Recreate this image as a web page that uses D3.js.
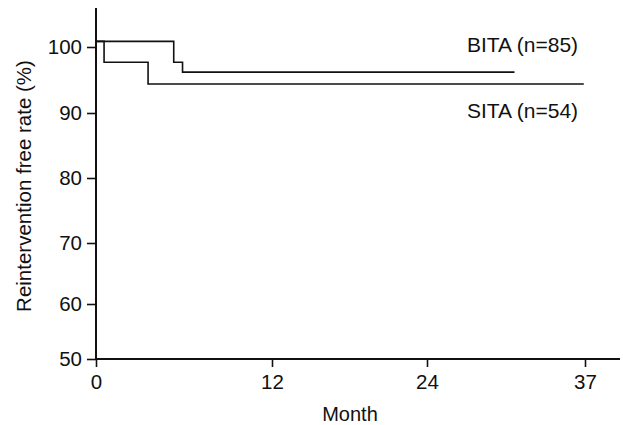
<!DOCTYPE html>
<html>
<head>
<meta charset="utf-8">
<script src="https://cdn.jsdelivr.net/npm/d3@7"></script>
<style>
  body { margin: 0; background: #fff; }
  text { font-family: "Liberation Sans", Arial, sans-serif; fill: #111; }
</style>
</head>
<body>
<div id="chart"></div>
<script>
// tick values
var xTicks = [0, 12, 24, 37];
var yTicks = [50, 60, 70, 80, 90, 100];

// step curves, month vs %
var bitaMonth = [0, 5.3, 5.9, 31.2];
var bitaRate  = [101, 97.7, 96.2, 96.2];
var sitaMonth = [0, 0.55, 3.55, 36.9];
var sitaRate  = [101, 97.7, 94.4, 94.4];

var seriesNames = ["BITA (n=85)", "SITA (n=54)"];

var W = 623, H = 425;
var svg = d3.select("#chart").append("svg")
  .attr("width", W).attr("height", H);

// scanned figure is a bit uneven, so use piecewise scales
var x = d3.scaleLinear().domain([0, 12, 24, 37, 39.6]).range([96, 272, 427, 585, 620]);
var y = d3.scaleLinear().domain([50, 60, 70, 80, 90, 100, 106.9]).range([359, 304, 243, 178, 113, 47, 8]);

var toPts = function(m, r) {
  return m.map(function(d, i) { return [d, r[i]]; });
};

var line = d3.line()
  .x(function(d) { return x(d[0]); })
  .y(function(d) { return y(d[1]); })
  .curve(d3.curveStepAfter);

// axes
var xAxis = svg.append("g")
  .attr("transform", "translate(0," + y(50) + ")")
  .call(d3.axisBottom(x).tickValues(xTicks).tickSize(8).tickPadding(7).tickSizeOuter(0));
xAxis.select(".domain").attr("d", "M" + x(0) + ",0H620").attr("stroke-width", 2);

var yAxis = svg.append("g")
  .attr("transform", "translate(" + x(0) + ",0)")
  .call(d3.axisLeft(y).tickValues(yTicks).tickSize(9).tickPadding(5).tickSizeOuter(0));
yAxis.select(".domain").attr("d", "M0,8V" + y(50)).attr("stroke-width", 2);

svg.selectAll(".tick line").attr("stroke-width", 1.6).attr("stroke", "#111");
svg.selectAll(".tick text").style("font-size", "20.5px").attr("fill", "#111");
svg.selectAll(".domain").attr("stroke", "#111");

// curves
[toPts(bitaMonth, bitaRate), toPts(sitaMonth, sitaRate)].forEach(function(pts) {
  svg.append("path")
    .datum(pts)
    .attr("d", line)
    .attr("fill", "none")
    .attr("stroke", "#111")
    .attr("stroke-width", 1.6);
});

// series labels
svg.append("text").attr("x", 467).attr("y", 52).style("font-size", "21px").text(seriesNames[0]);
svg.append("text").attr("x", 467).attr("y", 118).style("font-size", "21px").text(seriesNames[1]);

// axis titles
svg.append("text")
  .attr("x", 350).attr("y", 421)
  .attr("text-anchor", "middle")
  .style("font-size", "20px")
  .text("Month");

svg.append("text")
  .attr("transform", "translate(31,186) rotate(-90)")
  .attr("text-anchor", "middle")
  .style("font-size", "20.5px")
  .text("Reintervention free rate (%)");
</script>
</body>
</html>
